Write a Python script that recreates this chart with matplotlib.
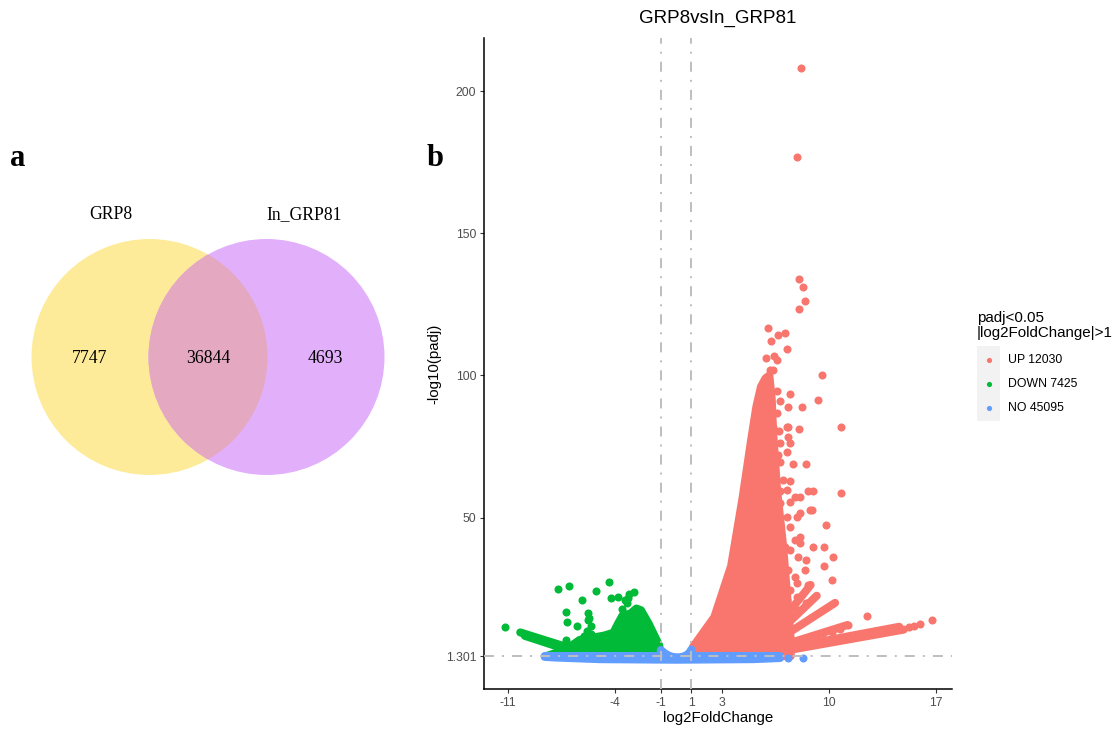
import numpy as np
import matplotlib
matplotlib.use("Agg")
import matplotlib.pyplot as plt
from matplotlib.patches import Circle, Polygon, Rectangle

plt.rcParams['lines.scale_dashes'] = False

# ---------------- Venn data ----------------
venn_sets = ["GRP8", "In_GRP81"]
venn_counts = [7747, 36844, 4693]   # only GRP8, both, only In_GRP81
venn_colors = ["#FEEB99", "#E4A8C0", "#E2B0FB"]

# ---------------- Volcano data ----------------
title = "GRP8vsIn_GRP81"
legend_title = "padj<0.05\n|log2FoldChange|>1"
legend_labels = ["UP 12030", "DOWN 7425", "NO 45095"]
colors = {"UP": "#F8766D", "DOWN": "#00BA38", "NO": "#619CFF"}
x_ticks = [-11, -4, -1, 1, 3, 10, 17]
y_ticks = [1.301, 50, 100, 150, 200]
fc_cut = [-1, 1]
p_cut = 1.301

# dense UP mass (envelope of point centres)
up_core_x = [1.05, 1.10, 2.50, 3.60, 4.35, 4.90, 5.25, 5.55, 5.85, 6.10, 6.25, 6.35, 6.60, 7.00, 7.30, 7.50, 7.50]
up_core_y = [1.3, 4.5, 15.0, 33.0, 57.0, 77.0, 89.0, 96.0, 99.0, 100.0, 92.0, 80.0, 60.0, 40.0, 20.0, 7.0, 1.3]
# UP streaks (start -> end)
up_ray_x0 = [5.5, 5.5, 5.5, 5.5, 5.5, 5.5]
up_ray_y0 = [1.6, 2.4, 2.6, 3.0, 3.5, 4.0]
up_ray_x1 = [14.9, 14.6, 11.2, 10.4, 9.2, 8.8]
up_ray_y1 = [10.6, 11.6, 12.2, 20.0, 22.5, 26.3]
# individual UP points
up_x = [8.16, 7.90, 8.03, 8.27, 8.40, 8.05, 6.03, 6.66, 7.14, 6.20, 7.23, 9.54, 5.87, 6.40, 6.61,
        6.14, 6.35, 5.81, 5.96, 6.57, 6.79, 6.18, 9.28, 8.23, 10.76, 8.05, 7.44, 7.31, 7.31, 6.57,
        6.35, 6.70, 7.27, 7.33, 6.14, 6.79, 7.44, 7.23, 6.68, 6.14, 6.79, 7.66, 8.53, 6.03, 6.03,
        7.01, 7.44, 6.79, 7.23, 7.77, 8.10, 8.64, 8.97, 10.76, 6.79, 7.44, 8.10, 8.75, 8.86, 7.23,
        7.88, 7.44, 8.10, 7.77, 9.80, 7.12, 7.44, 8.10, 8.97, 8.53, 7.99, 9.67, 10.24, 9.67, 10.19,
        6.79, 7.33, 7.77, 8.42, 7.88, 8.64, 7.44, 6.79, 7.23, 7.88, 7.44, 7.99, 8.53, 12.49, 15.23,
        15.57, 15.95, 16.75, 9.23, 9.62, 10.21, 10.71, 11.22]
up_y = [208.3, 177.0, 134.1, 131.0, 126.1, 123.4, 116.8, 114.1, 115.1, 112.0, 109.2, 100.2, 106.1, 106.7, 105.3,
        102.0, 102.0, 98.5, 96.7, 94.4, 90.9, 90.3, 91.2, 88.9, 81.8, 81.3, 93.6, 89.0, 82.0, 86.8,
        82.0, 80.3, 82.0, 78.5, 78.5, 76.2, 76.4, 73.2, 72.1, 73.8, 69.7, 69.0, 69.0, 67.9, 63.3,
        63.3, 62.7, 59.2, 59.8, 57.4, 57.4, 59.2, 59.5, 58.6, 55.1, 55.6, 51.5, 52.7, 52.7, 50.3,
        50.3, 46.8, 43.3, 42.1, 47.4, 39.8, 38.6, 41.0, 39.8, 35.1, 36.3, 39.8, 36.3, 33.0, 28.1,
        32.7, 31.6, 29.2, 31.6, 27.0, 26.3, 24.5, 23.4, 21.0, 22.2, 18.1, 17.5, 19.9, 15.4, 11.4,
        12.0, 12.7, 14.0, 8.7, 9.3, 9.9, 10.7, 12.2]

# dense DOWN mass (envelope of point centres)
down_core_x = [-8.5, -8.3, -7.7, -7.1, -6.7, -6.3, -5.7, -5.2, -4.7, -4.1, -3.8, -3.5, -3.0, -2.6, -2.3, -1.8, -1.1, -1.1]
down_core_y = [1.3, 1.6, 2.7, 3.9, 5.5, 7.0, 7.5, 8.0, 8.5, 9.5, 12.7, 15.6, 16.2, 18.0, 17.4, 12.7, 5.0, 1.3]
down_ray_x0 = [-10.2, -9.9]
down_ray_y0 = [9.6, 8.4]
down_ray_x1 = [-7.0, -7.0]
down_ray_y1 = [4.2, 3.3]
down_x = [-11.22, -7.73, -7.01, -4.42, -5.24, -6.18, -4.28, -3.83, -3.06, -2.76, -3.13, -7.23, -7.16,
          -6.51, -7.21, -5.79, -3.24, -3.56, -3.35, -5.75, -5.86, -5.60, -6.00, -5.70, -5.55]
down_y = [11.6, 25.0, 25.9, 27.4, 24.0, 21.0, 21.6, 22.2, 23.1, 23.8, 21.6, 16.9, 13.4,
          12.0, 6.9, 16.5, 19.8, 17.7, 21.0, 14.0, 10.0, 12.0, 8.5, 14.5, 9.0]

# dense NO band (envelope of point centres)
no_core_x = [-8.6, -1.0, -1.0, -0.75, -0.5, -0.25, 0.1, 0.4, 0.65, 0.85, 1.0, 1.0, 6.8,
             6.8, 5.0, 0.0, -5.0, -8.0, -8.6]
no_core_y = [1.3, 1.3, 3.4, 2.3, 1.5, 1.0, 0.8, 1.0, 1.5, 2.3, 3.6, 1.3, 1.3,
             0.6, 0.2, 0.0, 0.2, 0.8, 1.0]
no_x = [7.33, 8.31]
no_y = [0.5, 0.7]

# ---------------- figure ----------------
W, H = 1119, 731
fig = plt.figure(figsize=(W / 100, H / 100), dpi=100)

# overlay axes in pixel coordinates (Venn + panel letters)
axp = fig.add_axes([0, 0, 1, 1])
axp.set_xlim(0, W)
axp.set_ylim(H, 0)
axp.axis("off")

serif = ["Liberation Serif", "DejaVu Serif"]
cl = (149.5, 357)
cr = (266.5, 357)
r = 118
axp.add_patch(Circle(cl, r, fc=venn_colors[0], ec="none"))
axp.add_patch(Circle(cr, r, fc=venn_colors[2], ec="none"))
clip = Circle(cl, r, transform=axp.transData)
ov = Circle(cr, r, fc=venn_colors[1], ec="none")
axp.add_patch(ov)
ov.set_clip_path(clip)

axp.text(111, 219, venn_sets[0], ha="center", va="baseline", fontsize=12.7, family=serif)
axp.text(304, 219, venn_sets[1], ha="center", va="baseline", fontsize=12.7, family=serif)
for xx, cnt in zip([90, 208, 325], venn_counts):
    axp.text(xx, 363, str(cnt), ha="center", va="baseline", fontsize=12.8, family=serif)
axp.text(10, 166, "a", ha="left", va="baseline", fontsize=22, fontweight="bold", family=serif)
axp.text(427, 166, "b", ha="left", va="baseline", fontsize=22, fontweight="bold", family=serif)

# volcano axes
sans = ["Liberation Sans", "DejaVu Sans"]
L, R_, T, B = 484, 952, 38, 689
ax = fig.add_axes([L / W, 1 - B / H, (R_ - L) / W, (B - T) / H])
ax.set_xlim(-12.57, 18.05)
ax.set_ylim(-10.3, 218.7)
ax.patch.set_alpha(0)

d = 5.8  # marker diameter in points
s = d ** 2

def mass(xs, ys, c, z):
    ax.add_patch(Polygon(np.column_stack([xs, ys]), closed=True, fc=c, ec=c, lw=d,
                         joinstyle="round", zorder=z))

def rays(x0, y0, x1, y1, c, z):
    for a, b, e, f in zip(x0, y0, x1, y1):
        ax.plot([a, e], [b, f], color=c, lw=d, solid_capstyle="round", zorder=z)

mass(down_core_x, down_core_y, colors["DOWN"], 2)
rays(down_ray_x0, down_ray_y0, down_ray_x1, down_ray_y1, colors["DOWN"], 2)
ax.scatter(down_x, down_y, s=s, color=colors["DOWN"], lw=0, zorder=2)

mass(up_core_x, up_core_y, colors["UP"], 2)
rays(up_ray_x0, up_ray_y0, up_ray_x1, up_ray_y1, colors["UP"], 2)
ax.scatter(up_x, up_y, s=s, color=colors["UP"], lw=0, zorder=2)

mass(no_core_x, no_core_y, colors["NO"], 3)
ax.scatter(no_x, no_y, s=s, color=colors["NO"], lw=0, zorder=3)

ls = (0, (7.2, 5.8, 1.4, 5.8))
for v in fc_cut:
    ax.axvline(v, color="#BEBEBE", lw=1.4, ls=ls, zorder=4)
ax.axhline(p_cut, color="#BEBEBE", lw=1.4, ls=ls, zorder=4)

for sp in ["top", "right"]:
    ax.spines[sp].set_visible(False)
for sp in ["left", "bottom"]:
    ax.spines[sp].set_linewidth(1.1)
    ax.spines[sp].set_color("black")
ax.set_xticks(x_ticks)
ax.set_xticklabels([str(t) for t in x_ticks])
ax.set_yticks(y_ticks)
ax.set_yticklabels(["1.301", "50", "100", "150", "200"])
ax.tick_params(length=3, width=0.8, color="#333333", labelcolor="#4D4D4D",
               labelsize=8.8, pad=2.5)
for lab in ax.get_xticklabels() + ax.get_yticklabels():
    lab.set_family(sans)
ax.set_xlabel("log2FoldChange", fontsize=10.8, family=sans, labelpad=2)
ax.set_ylabel("-log10(padj)", fontsize=10.8, family=sans, labelpad=3)
fig.text(718 / W, 1 - 18 / H, title, ha="center", va="center", fontsize=13.5, family=sans)

# legend (drawn in pixel overlay)
axl = fig.add_axes([0, 0, 1, 1], zorder=10)
axl.set_xlim(0, W)
axl.set_ylim(H, 0)
axl.axis("off")
axl.text(977, 337, legend_title, ha="left", va="baseline", fontsize=10.9, family=sans,
         linespacing=1.05)
axl.add_patch(Rectangle((977, 346), 23, 75, fc="#F2F2F2", ec="none"))
for yy, lab, key in zip([360, 384.3, 408.3], legend_labels, ["UP", "DOWN", "NO"]):
    axl.scatter([988.5], [yy], s=14, color=colors[key], lw=0)
    axl.text(1008, yy, lab, ha="left", va="center", fontsize=8.8, family=sans)

fig.savefig("out.png", dpi=100)
